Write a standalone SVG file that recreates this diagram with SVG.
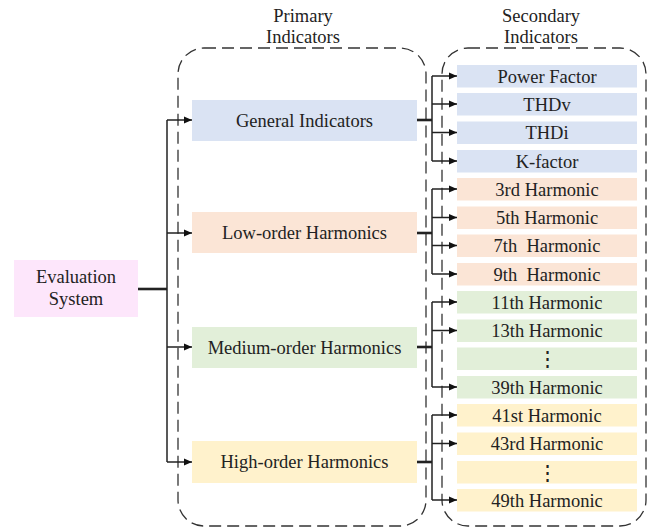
<svg xmlns="http://www.w3.org/2000/svg" width="654" height="528" viewBox="0 0 654 528">
<style>
text{font-family:"Liberation Serif","Times New Roman",serif;font-size:18.5px;fill:#222;text-anchor:middle;white-space:pre}
text.dots{font-family:"DejaVu Serif",serif;font-size:21px}
.dash{fill:none;stroke:#333;stroke-width:1.3;stroke-dasharray:12 6}
.c{fill:none;stroke:#222;stroke-width:1.5}
.t{fill:none;stroke:#222;stroke-width:2.6}
.blue{fill:#dae3f3}.peach{fill:#fbe5d6}.green{fill:#e2efd9}.yellow{fill:#fff2cc}.pink{fill:#fde6fb}
</style>
<defs>
<marker id="ah" markerUnits="userSpaceOnUse" markerWidth="9" markerHeight="8" refX="8" refY="4" orient="auto">
<path d="M0,0.5 L8,4 L0,7.5 z" fill="#111"/>
</marker>
</defs>
<g id="headers">
<text x="303" y="22">Primary</text>
<text x="303" y="43">Indicators</text>
<text x="541" y="22">Secondary</text>
<text x="541" y="43">Indicators</text>
</g>
<g id="groups">
<rect class="dash" x="178" y="48" width="248" height="478" rx="26"/>
<rect class="dash" x="442" y="48" width="204" height="478" rx="26"/>
</g>
<g id="root"><rect class="pink" x="14" y="260" width="124" height="57"/><text x="76" y="283">Evaluation</text><text x="76" y="305">System</text></g>
<g id="general"><rect class="blue" x="192" y="100" width="225" height="41"/><text x="304.5" y="126.5">General Indicators</text></g>
<g id="low"><rect class="peach" x="192" y="212" width="225" height="41"/><text x="304.5" y="239">Low-order Harmonics</text></g>
<g id="medium"><rect class="green" x="192" y="327" width="225" height="41"/><text x="304.5" y="353.5">Medium-order Harmonics</text></g>
<g id="high"><rect class="yellow" x="192" y="441" width="225" height="42"/><text x="304.5" y="468">High-order Harmonics</text></g>
<g id="pf"><rect class="blue" x="457" y="65" width="180" height="22.5"/><text x="547" y="82.5">Power Factor</text></g>
<g id="thdv"><rect class="blue" x="457" y="93" width="180" height="22.5"/><text x="547" y="110.5">THDv</text></g>
<g id="thdi"><rect class="blue" x="457" y="121.5" width="180" height="22.5"/><text x="547" y="139">THDi</text></g>
<g id="kf"><rect class="blue" x="457" y="150" width="180" height="22.5"/><text x="547" y="167.5">K-factor</text></g>
<g id="h3"><rect class="peach" x="457" y="178" width="180" height="22.5"/><text x="547" y="195.5">3rd Harmonic</text></g>
<g id="h5"><rect class="peach" x="457" y="206.5" width="180" height="22.5"/><text x="547" y="224">5th Harmonic</text></g>
<g id="h7"><rect class="peach" x="457" y="234.5" width="180" height="22.5"/><text x="547" y="252">7th  Harmonic</text></g>
<g id="h9"><rect class="peach" x="457" y="263" width="180" height="22.5"/><text x="547" y="280.5">9th  Harmonic</text></g>
<g id="h11"><rect class="green" x="457" y="291" width="180" height="22.5"/><text x="547" y="308.5">11th Harmonic</text></g>
<g id="h13"><rect class="green" x="457" y="319.5" width="180" height="22.5"/><text x="547" y="337">13th Harmonic</text></g>
<g id="hmid"><rect class="green" x="457" y="347.5" width="180" height="22.5"/><text class="dots" x="547.5" y="366">⋮</text></g>
<g id="h39"><rect class="green" x="457" y="376" width="180" height="22.5"/><text x="547" y="393.5">39th Harmonic</text></g>
<g id="h41"><rect class="yellow" x="457" y="404" width="180" height="22.5"/><text x="547" y="421.5">41st Harmonic</text></g>
<g id="h43"><rect class="yellow" x="457" y="432.5" width="180" height="22.5"/><text x="547" y="450">43rd Harmonic</text></g>
<g id="hhi"><rect class="yellow" x="457" y="461" width="180" height="22.5"/><text class="dots" x="547.5" y="479.5">⋮</text></g>
<g id="h49"><rect class="yellow" x="457" y="489" width="180" height="22.5"/><text x="547" y="506.5">49th Harmonic</text></g>
<g id="connectors">
<path class="t" d="M138,289 H167"/>
<path class="c" d="M167,120 V462"/>
<path class="c" d="M167,120 H192" marker-end="url(#ah)"/>
<path class="c" d="M167,233 H192" marker-end="url(#ah)"/>
<path class="c" d="M167,347 H192" marker-end="url(#ah)"/>
<path class="c" d="M167,462 H192" marker-end="url(#ah)"/>
<path class="t" d="M417,120 H432"/>
<path class="c" d="M432,76 V161"/>
<path class="c" d="M432,76 H457" marker-end="url(#ah)"/>
<path class="c" d="M432,104 H457" marker-end="url(#ah)"/>
<path class="c" d="M432,132.5 H457" marker-end="url(#ah)"/>
<path class="c" d="M432,161 H457" marker-end="url(#ah)"/>
<path class="t" d="M417,233 H432"/>
<path class="c" d="M432,189 V274"/>
<path class="c" d="M432,189 H457" marker-end="url(#ah)"/>
<path class="c" d="M432,217.5 H457" marker-end="url(#ah)"/>
<path class="c" d="M432,245.5 H457" marker-end="url(#ah)"/>
<path class="c" d="M432,274 H457" marker-end="url(#ah)"/>
<path class="t" d="M417,347 H432"/>
<path class="c" d="M432,302 V387"/>
<path class="c" d="M432,302 H457" marker-end="url(#ah)"/>
<path class="c" d="M432,330.5 H457" marker-end="url(#ah)"/>
<path class="c" d="M432,387 H457" marker-end="url(#ah)"/>
<path class="t" d="M417,462 H432"/>
<path class="c" d="M432,415 V500"/>
<path class="c" d="M432,415 H457" marker-end="url(#ah)"/>
<path class="c" d="M432,443.5 H457" marker-end="url(#ah)"/>
<path class="c" d="M432,500 H457" marker-end="url(#ah)"/>
</g>
</svg>
